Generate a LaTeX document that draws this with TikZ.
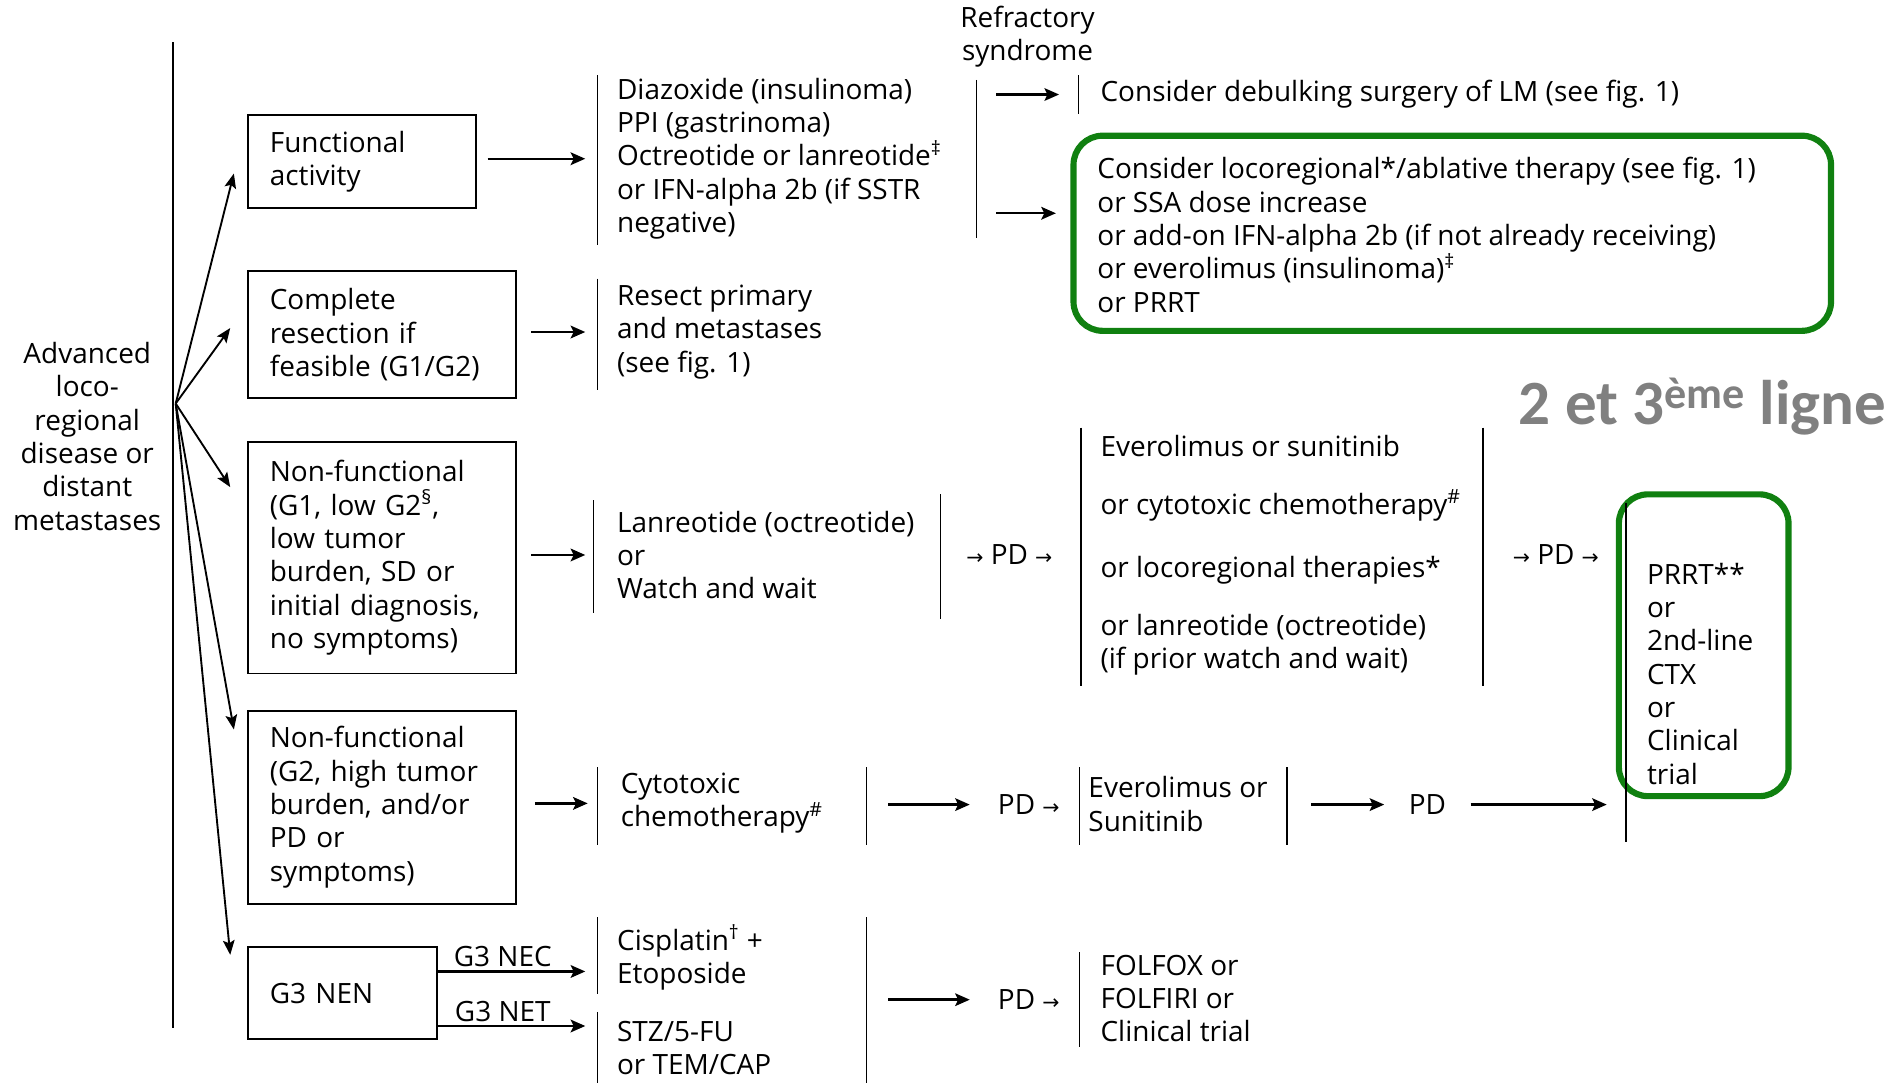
\documentclass[tikz,border=0pt]{standalone}
\usepackage{fontspec}
\setmainfont{Open Sans}
\newfontfamily\symf{DejaVu Sans}
\newfontfamily\calb{Carlito}
\usetikzlibrary{arrows.meta,calc}
\definecolor{grn}{RGB}{16,128,16}
\definecolor{gry}{RGB}{128,128,128}
\newcommand{\sarr}{{\symf\fontsize{12}{12}\selectfont →}}
\begin{document}
\begin{tikzpicture}[x=0.025cm,y=-0.025cm,
  font=\fontsize{16.4}{19.56}\selectfont,
  txt/.style={inner sep=0pt, align=left, anchor=west},
  ctxt/.style={inner sep=0pt, align=center},
  box/.style={draw, line width=1pt, inner xsep=0.45cm, inner ysep=0pt, align=left, anchor=north west},
  gbox/.style={draw=grn, line width=3.6pt, rounded corners=0.6cm, inner sep=0pt},
  bar/.style={line width=0.8pt},
  arr/.style={-{Stealth[length=0.3cm,width=0.26cm,inset=0.06cm]}, line width=1.4pt},
  farr/.style={-{Stealth[length=0.3cm,width=0.24cm,inset=0.06cm]}, line width=1.1pt}]
\useasboundingbox (0,0) rectangle (1568,894);

% left label and fan
\node[ctxt] (adv) at (72,360) {Advanced\\loco-\\regional\\disease or\\distant\\metastases};
\coordinate (lt) at (143,35);
\coordinate (lb) at (143,848);
\draw[line width=1pt] (lt) -- (lb);
\coordinate (fan) at (145,333);

% first column boxes
\node[box, minimum width=4.7cm, minimum height=1.925cm, text width=3.8cm] (func) at (204,94) {Functional\\activity};
\node[box, minimum width=5.525cm, minimum height=2.625cm, text width=4.625cm] (comp) at (204,223) {Complete\\resection if\\feasible (G1/G2)};
\node[box, minimum width=5.525cm, minimum height=4.775cm, text width=4.625cm] (nf1) at (204,364) {Non-functional\\(G1, low G2\textsuperscript{§},\\low tumor\\burden, SD or\\initial diagnosis,\\no symptoms)};
\node[box, minimum width=5.525cm, minimum height=3.975cm, text width=4.625cm] (nf2) at (204,586) {Non-functional\\(G2, high tumor\\burden, and/or\\PD or\\symptoms)};
\node[box, minimum width=3.9cm, minimum height=1.9cm, text width=3.0cm] (g3) at (204,781) {G3 NEN};

\draw[farr] (fan) -- ($(func.west)+(-11,10)$);
\draw[farr] (fan) -- ($(comp.west)+(-14,-5.5)$);
\draw[farr] (fan) -- ($(nf1.north west)+(-14,38)$);
\draw[farr] (fan) -- ($(nf2.north west)+(-11,16)$);
\draw[farr] (fan) -- ($(g3.north west)+(-14,7)$);

% second column
\node[txt] (c2a) at (509,131) {Diazoxide (insulinoma)\\PPI (gastrinoma)\\Octreotide or lanreotide\textsuperscript{‡}\\or IFN-alpha 2b (if SSTR\\negative)};
\draw[bar] (493,62) -- (493,202);
\draw[bar] (806,66) -- (806,196);
\node[txt] (c2b) at (509,274) {Resect primary\\and metastases\\(see fig. 1)};
\draw[bar] (493,230) -- (493,322);
\node[txt] (c2c) at (509,458) {Lanreotide (octreotide)\\or\\Watch and wait};
\draw[bar] (490,413) -- (490,506);
\draw[bar] (776,408) -- (776,511);
\node[txt] (c2d) at (512,663) {Cytotoxic\\chemotherapy\textsuperscript{\#}};
\draw[bar] (493,633) -- (493,697);
\draw[bar] (715,633) -- (715,697);
\node[txt] (c2e) at (509,790) {Cisplatin\textsuperscript{†} +\\Etoposide};
\draw[bar] (493,757) -- (493,820);
\node[txt] (c2f) at (509,865) {STZ/5-FU\\or TEM/CAP};
\draw[bar] (493,835) -- (493,894);
\draw[bar] (715,757) -- (715,894);

\coordinate (c2aIn) at ($(c2a.west)+(-26,0)$);
\coordinate (c2bIn) at ($(c2b.west)+(-26,0)$);
\coordinate (c2cIn) at ($(c2c.west)+(-26,0)$);
\coordinate (c2dIn) at ($(c2d.west)+(-27,0)$);
\coordinate (funcOut) at ($(func.east)+(9,0)$);
\coordinate (compOut) at ($(comp.east)+(12,0)$);
\coordinate (nf1Out) at ($(nf1.east)+(12,0)$);
\coordinate (nf2Out) at ($(nf2.east)+(15,0)$);
\draw[arr] (funcOut |- c2aIn) -- (c2aIn);
\draw[arr] (compOut |- c2bIn) -- (c2bIn);
\draw[arr] (nf1Out |- c2cIn) -- (c2cIn);
\draw[arr] (nf2Out |- c2dIn) -- (c2dIn);

\coordinate (necA) at ($(g3.east)+(0,-18)$);
\coordinate (netA) at ($(g3.east)+(0,27)$);
\draw[arr] (necA) -- node[pos=0.44, above=1pt, inner sep=1pt] (nec) {G3 NEC} (necA -| c2aIn);
\draw[arr] (netA) -- node[pos=0.44, above=1pt, inner sep=1pt] (net) {G3 NET} (netA -| c2aIn);

% refractory syndrome
\node[ctxt] (refr) at (848,30) {Refractory\\syndrome};
\node[txt] (debulk) at (908,78) {Consider debulking surgery of LM (see fig. 1)};
\draw[bar] (890,62) -- (890,94);
\coordinate (r1) at (822,78);
\draw[arr] (r1) -- ($(debulk.west)+(-34,0)$);
\node[gbox, minimum width=15.625cm, minimum height=4.025cm] (g1) at (1198.5,192.5) {};
\node[txt] (g1t) at ($(g1.west)+(22,1.5)$) {Consider locoregional*/ablative therapy (see fig. 1)\\or SSA dose increase\\or add-on IFN-alpha 2b (if not already receiving)\\or everolimus (insulinoma)\textsuperscript{‡}\\or PRRT};
\coordinate (r2) at (822,176);
\draw[arr] (r2) -- ($(g1.west)+(-12,-16.5)$);

\node[anchor=base east, inner sep=0pt, text=gry, font={\calb\bfseries\fontsize{37}{40}\selectfont}] (lab) at (1557,350) {2 et 3\textsuperscript{ème} ligne};

% middle row
\node[ctxt] (pd1) at (833,458) {\sarr\ PD \sarr};
\node[txt] (c3a) at (908,458) {Everolimus or sunitinib\\[0.51cm]or cytotoxic chemotherapy\textsuperscript{\#}\\[0.61cm]or locoregional therapies*\\[0.51cm]or lanreotide (octreotide)\\(if prior watch and wait)};
\draw[bar] (892,353) -- (892,566);
\draw[bar] (1224,353) -- (1224,566);
\node[ctxt] (pd2) at (1284,458) {\sarr\ PD \sarr};
\node[gbox, minimum width=3.5cm, minimum height=6.225cm] (prrt) at (1406,532.5) {};
\node[txt] (prrtt) at (1359,556) {PRRT**\\or\\2nd-line\\CTX\\or\\Clinical\\trial};
\draw[bar] (1342,415) -- (1342,695);

% NF2 row
\coordinate (a1s) at (733,664);
\node[ctxt] (pd3) at (849,664) {PD \sarr};
\draw[arr] (a1s) -- ($(pd3.west)+(-23,0)$);
\draw[bar] (891,633) -- (891,697);
\node[txt] (c3b) at (898,663.5) {Everolimus or\\Sunitinib};
\draw[bar] (1062,633) -- (1062,697);
\coordinate (a2s) at (1082,664);
\node[ctxt] (pd4) at (1178,664) {PD};
\draw[arr] (a2s) -- ($(pd4.west)+(-20,0)$);
\coordinate (a3e) at (1326,664);
\draw[arr] ($(pd4.east)+(20,0)$) -- (a3e);

% G3 row
\coordinate (a4s) at (733,825);
\node[ctxt] (pd5) at (849,825) {PD \sarr};
\draw[arr] (a4s) -- ($(pd5.west)+(-23,0)$);
\draw[bar] (891,786) -- (891,864);
\node[txt] (c3c) at (908,824) {FOLFOX or\\FOLFIRI or\\Clinical trial};
\end{tikzpicture}
\end{document}
